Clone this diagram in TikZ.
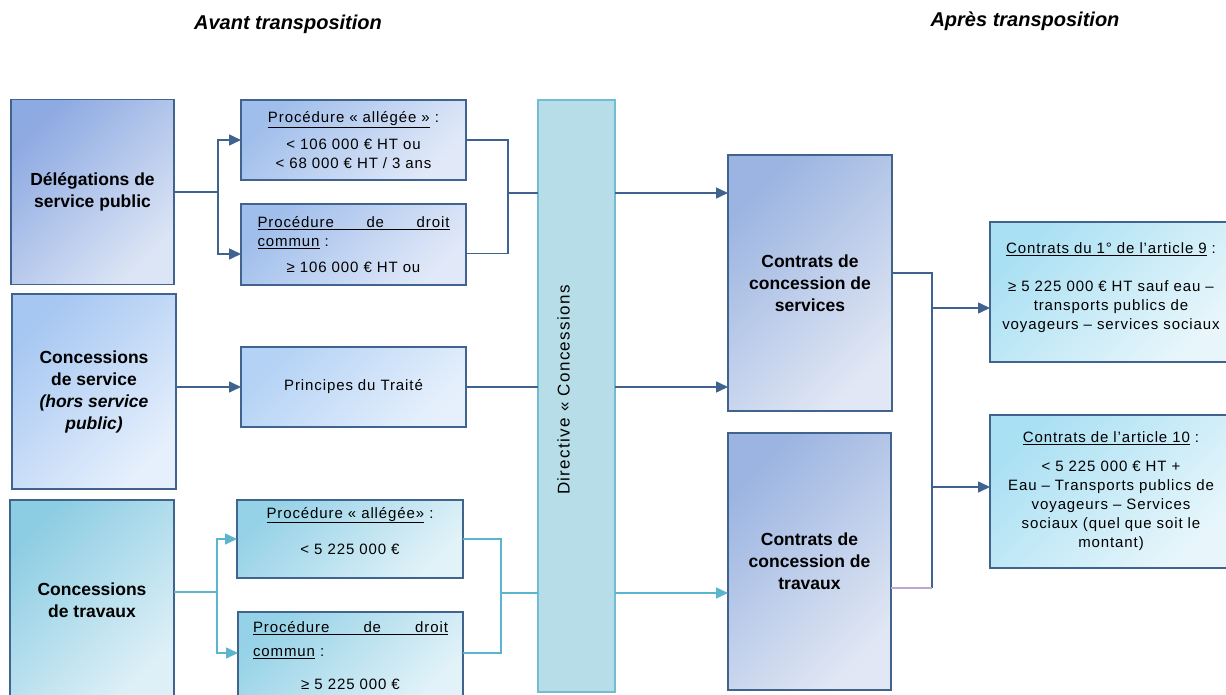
\documentclass[tikz,border=0pt]{standalone}
\usepackage{fontspec}
\setmainfont{Liberation Sans}
\newfontfamily\spaced[LetterSpace=6]{Liberation Sans}
\newfontfamily\dirfont[LetterSpace=8]{Liberation Sans}
\usetikzlibrary{arrows.meta,calc}
\definecolor{lineblue}{HTML}{3F6291}
\definecolor{lineteal}{HTML}{5BB5CE}
\definecolor{linepurple}{HTML}{BCA8D2}
\definecolor{boxborder}{HTML}{41648F}
\definecolor{dirfill}{HTML}{B7DEE8}
\definecolor{dirborder}{HTML}{72BCD4}
\definecolor{dspA}{HTML}{8EAAE2}\definecolor{dspB}{HTML}{DCE5F5}
\definecolor{csA}{HTML}{A6C7F2}\definecolor{csB}{HTML}{E6F0FC}
\definecolor{ctA}{HTML}{8DCDE3}\definecolor{ctB}{HTML}{DEF0F7}
\definecolor{p1A}{HTML}{A0BEEB}\definecolor{p1B}{HTML}{E1E9F8}
\definecolor{ptA}{HTML}{B4D2F5}\definecolor{ptB}{HTML}{E6F0FC}
\definecolor{p2A}{HTML}{96D2E7}\definecolor{p2B}{HTML}{E1F2F8}
\definecolor{ccA}{HTML}{9BB4E1}\definecolor{ccB}{HTML}{E1E7F4}
\definecolor{arA}{HTML}{AAE0F3}\definecolor{arB}{HTML}{E8F6FB}
\tikzset{
  grad/.style 2 args={top color=#1, bottom color=#2, shading angle=45},
  box/.style={draw=boxborder, line width=1.5pt, inner sep=0pt, outer sep=0pt, align=center, text=black},
  big/.style={box, font=\fontsize{17.5}{22}\selectfont\bfseries},
  small/.style={box, font=\spaced\fontsize{15}{19}\selectfont},
  title/.style={font=\fontsize{20}{24}\selectfont\bfseries\itshape, inner sep=0pt},
  con/.style={draw=lineblue, line width=1.6pt},
  conteal/.style={draw=lineteal, line width=1.6pt},
  conpurple/.style={draw=linepurple, line width=1.6pt},
  arr/.style={con, -{Triangle[length=12pt,width=11pt]}},
  arrteal/.style={conteal, -{Triangle[length=12pt,width=11pt]}},
}
\begin{document}
\begin{tikzpicture}[x=1pt,y=-1pt]
\fill[white] (0,0) rectangle (1226,695);
\useasboundingbox (0,0) rectangle (1226,695);
\clip (0,0) rectangle (1226,695);

\node[title] (t1) at (288,24) {Avant transposition};
\node[title] (t2) at (1025,21) {Après transposition};

\node[big, grad={dspA}{dspB}, minimum width=163pt, minimum height=185pt] (dsp) at (92.5,192) {Délégations de\\service public};
\node[big, grad={csA}{csB}, minimum width=164pt, minimum height=195pt] (cs) at (94,391.5) {Concessions\\de service\\\textit{(hors service}\\\textit{public)}};
\node[big, grad={ctA}{ctB}, minimum width=164pt, minimum height=200pt] (ct) at (92,600) {Concessions\\de travaux};

\node[small, grad={p1A}{p1B}, minimum width=225pt, minimum height=80pt, text width=210pt] (pa1) at (353.5,140)
  {\underline{Procédure « allégée »}~:\\[8pt] < 106 000 € HT ou\\< 68 000 € HT / 3 ans};
\node[small, grad={p1A}{p1B}, minimum width=225pt, minimum height=81pt, text width=210pt] (pd1) at (353.5,244.5)
  {\leavevmode\underline{\hbox to 192pt{Procédure\hfill de\hfill droit}}\\ \leavevmode\hbox to 192pt{\underline{commun}~:\hfill}\\[7pt] ≥ 106 000 € HT ou};
\node[small, grad={ptA}{ptB}, minimum width=225pt, minimum height=80pt, text width=210pt] (pt) at (353.5,387)
  {Principes du Traité};
\node[small, grad={p2A}{p2B}, minimum width=226pt, minimum height=78pt, text width=210pt] (pa2) at (350,539)
  {\underline{Procédure « allégée»}~:\\[17pt] < 5 225 000 €\\[-2pt]\mbox{}};
\node[small, grad={p2A}{p2B}, minimum width=225pt, minimum height=88pt, text width=210pt] (pd2) at (350.5,656)
  {\leavevmode\underline{\hbox to 195pt{Procédure\hfill de\hfill droit}}\\[5pt] \leavevmode\hbox to 195pt{\underline{commun}~:\hfill}\\[14pt] ≥ 5 225 000 €};

\node[box, fill=dirfill, draw=dirborder, minimum width=77pt, minimum height=592pt] (dir) at (576.5,396)
  {\rotatebox{90}{\dirfont\fontsize{17}{20}\selectfont\hspace*{12pt}Directive « Concessions}\hspace*{26pt}};

\node[big, grad={ccA}{ccB}, minimum width=164pt, minimum height=256pt] (ccs) at (810,283) {Contrats de\\concession de\\services};
\node[big, grad={ccA}{ccB}, minimum width=163pt, minimum height=257pt] (cct) at (809.5,561.5) {Contrats de\\concession de\\travaux};

\node[small, grad={arA}{arB}, minimum width=242pt, minimum height=140pt, text width=236pt] (a9) at (1111,292)
  {\underline{Contrats du 1° de l’article 9}~:\\[19pt] ≥ 5 225 000 € HT sauf eau –\\transports publics de\\voyageurs – services sociaux\\[-7pt]\mbox{}};
\node[small, grad={arA}{arB}, minimum width=242pt, minimum height=153pt, text width=236pt] (a10) at (1111,491.5)
  {\underline{Contrats de l’article 10}~:\\[10pt] < 5 225 000 € HT +\\Eau – Transports publics de\\voyageurs – Services\\sociaux (quel que soit le\\montant)};

% connectors
\coordinate (j1) at (218,192);
\draw[con] (dsp.east) -- (j1);
\draw[arr] (j1) |- (pa1.west);
\draw[arr] (j1) |- ([yshift=-9.5pt]pd1.west);

\coordinate (j2) at (508,193);
\draw[con] (pa1.east) -| (j2);
\draw[con] ([yshift=-9pt]pd1.east) -| (j2);
\draw[con] (j2) -- (j2 -| dir.west);

\draw[arr] (pt.west -| cs.east) -- (pt.west);
\draw[con] (pt.east) -- (pt.east -| dir.west);

\coordinate (j3) at (217,592);
\draw[conteal] (j3 -| ct.east) -- (j3);
\draw[arrteal] (j3) |- (pa2.west);
\draw[arrteal] (j3) |- ([yshift=3pt]pd2.west);

\coordinate (j4) at (501,593);
\draw[conteal] (pa2.east) -| (j4);
\draw[conteal] ([yshift=3pt]pd2.east) -| (j4);
\draw[conteal] (j4) -- (j4 -| dir.west);

\draw[arr] (j2 -| dir.east) -- (j2 -| ccs.west);
\draw[arr] (pt.east -| dir.east) -- (pt.east -| ccs.west);
\draw[arrteal] (j4 -| dir.east) -- (j4 -| cct.west);

\coordinate (v1) at (932,273);
\coordinate (v2) at (932,588);
\coordinate (b1) at (932,308);
\coordinate (b2) at (932,487);
\draw[con] (v1 -| ccs.east) -- (v1) -- (v2);
\draw[conpurple] (v2 -| cct.east) -- (v2);
\draw[arr] (b1) -- (b1 -| a9.west);
\draw[arr] (b2) -- (b2 -| a10.west);
\end{tikzpicture}
\end{document}
